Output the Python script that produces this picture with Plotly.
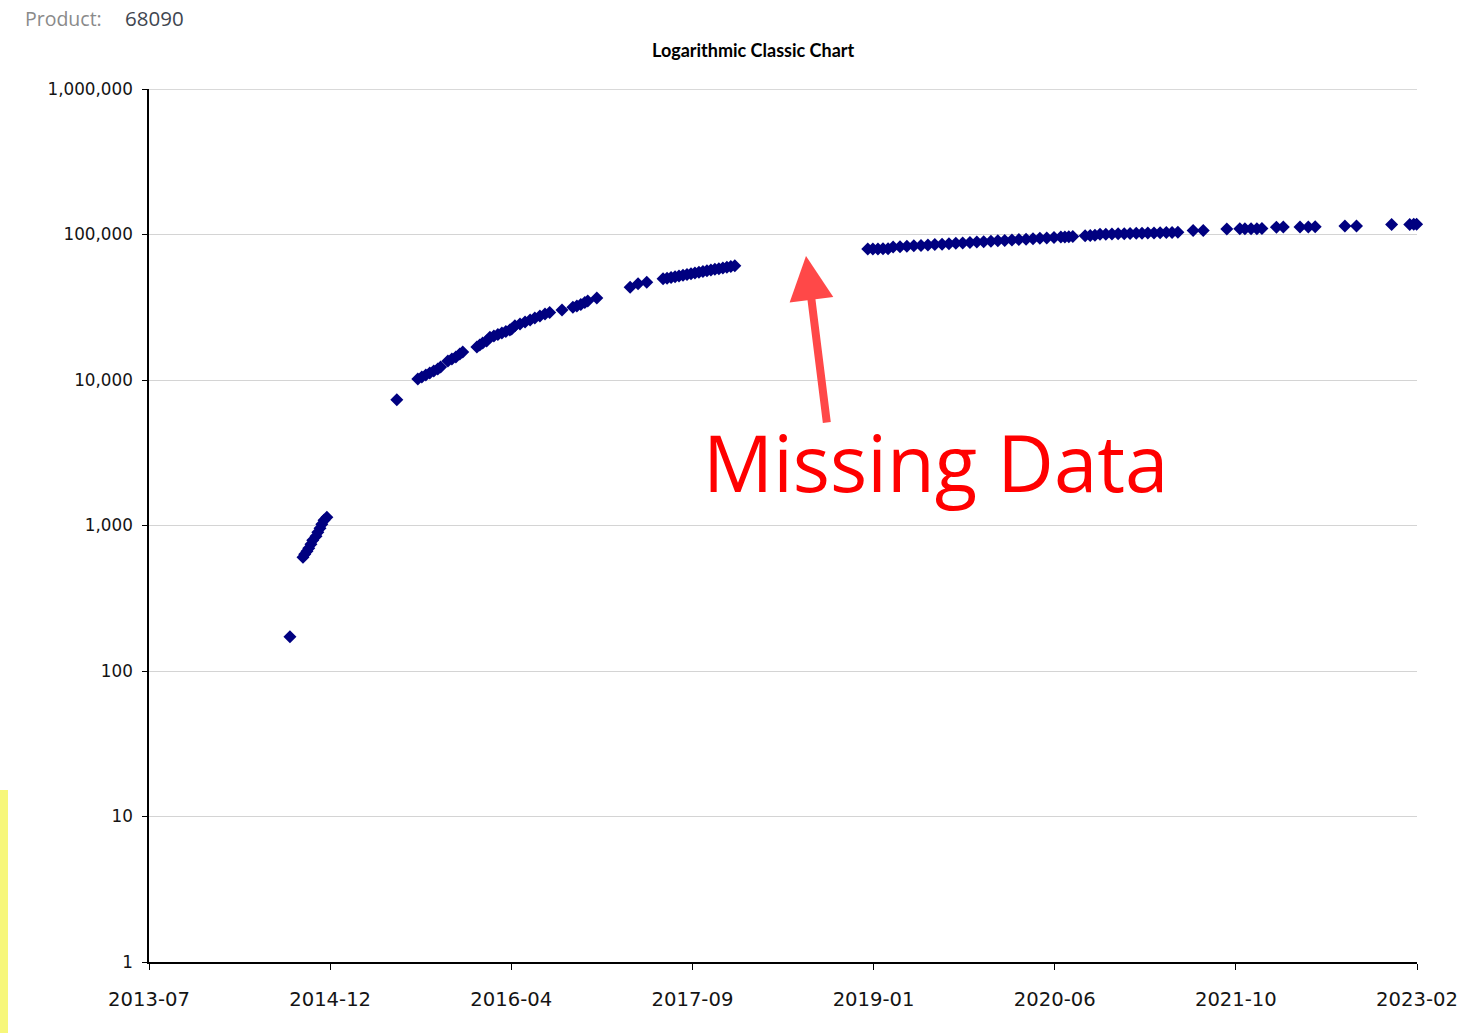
import plotly.graph_objects as go

# ---------------- data ----------------
dates = [
    '2014-08-22', '2014-09-27', '2014-10-02', '2014-10-08', '2014-10-13', '2014-10-19',
    '2014-10-24', '2014-11-02', '2014-11-07', '2014-11-13', '2014-11-18', '2014-11-24',
    '2014-12-02',
    '2015-06-13',
    '2015-08-10', '2015-08-21', '2015-09-01', '2015-09-12', '2015-09-23', '2015-10-04',
    '2015-10-12', '2015-11-01', '2015-11-12', '2015-11-23', '2015-12-04', '2015-12-12',
    '2016-01-20', '2016-01-28', '2016-02-05', '2016-02-16', '2016-02-25', '2016-03-07',
    '2016-03-18', '2016-03-29', '2016-04-09', '2016-04-20', '2016-04-25', '2016-05-04',
    '2016-05-18', '2016-06-01', '2016-06-15', '2016-06-28', '2016-07-12', '2016-07-26',
    '2016-08-08', '2016-09-11', '2016-10-11', '2016-10-22', '2016-11-02', '2016-11-13',
    '2016-11-21', '2016-12-16',
    '2017-03-18', '2017-04-09', '2017-05-03', '2017-06-17', '2017-06-28', '2017-07-09',
    '2017-07-20', '2017-07-31', '2017-08-11', '2017-08-22', '2017-09-02', '2017-09-13',
    '2017-09-24', '2017-10-05', '2017-10-16', '2017-10-27', '2017-11-07', '2017-11-18',
    '2017-11-29', '2017-12-10', '2017-12-21', '2018-01-01',
    '2019-01-03', '2019-01-17', '2019-01-31', '2019-02-14', '2019-02-28', '2019-03-14',
    '2019-04-02', '2019-04-21', '2019-05-10', '2019-05-30', '2019-06-18', '2019-07-07',
    '2019-07-27', '2019-08-15', '2019-09-03', '2019-09-22', '2019-10-12', '2019-10-31',
    '2019-11-19', '2019-12-09', '2019-12-28', '2020-01-16', '2020-02-05', '2020-02-24',
    '2020-03-15', '2020-04-03', '2020-04-22', '2020-05-11', '2020-05-31', '2020-06-19',
    '2020-06-30', '2020-07-11', '2020-07-22', '2020-08-25', '2020-09-08', '2020-09-21',
    '2020-10-05', '2020-10-21', '2020-11-07', '2020-11-24', '2020-12-11', '2020-12-27',
    '2021-01-13', '2021-01-29', '2021-02-14', '2021-03-03', '2021-03-20', '2021-04-06',
    '2021-04-22', '2021-05-08', '2021-06-19', '2021-07-17', '2021-09-20', '2021-10-26',
    '2021-11-09', '2021-11-26', '2021-12-12', '2021-12-26', '2022-02-04', '2022-02-23',
    '2022-04-10', '2022-05-03', '2022-05-22', '2022-08-12', '2022-09-13', '2022-12-19',
    '2023-02-07', '2023-02-18', '2023-02-26',
]

counts = [
    172, 604, 634, 665, 697, 743,
    791, 843, 898, 957, 1019, 1086,
    1140,
    7310,
    10160, 10480, 10820, 11160, 11520, 11890,
    12270, 13510, 13940, 14390, 15090, 15570,
    16870, 17410, 17980, 18550, 19670, 20080,
    20560, 21050, 21560, 22080, 22430, 23640,
    24270, 25060, 25870, 26710, 27570, 28470,
    29130, 30320, 31640, 32290, 33080, 34150,
    34970, 36650,
    43450, 45780, 47010, 49550, 50100, 50700,
    51290, 51890, 52490, 53120, 53740, 54360,
    54990, 55630, 56280, 56930, 57590, 58260,
    58940, 59620, 60310, 61010,
    79400, 79500, 79600, 79700, 79800, 81900,
    82450, 83000, 83560, 84110, 84670, 85220,
    85790, 86360, 86930, 87510, 88100, 88690,
    89280, 89860, 90460, 91070, 91680, 92290,
    92910, 93530, 94130, 94760, 95390, 95940,
    96200, 96500, 96800, 98200, 98450, 98700,
    100300, 100550, 100800, 101050, 101300, 101560,
    101820, 102080, 102340, 102600, 102860, 103120,
    103380, 103640, 106500, 106600, 109200, 109400,
    109500, 109600, 109700, 109800, 112300, 112500,
    112600, 112700, 112900, 114200, 114400, 117200,
    117300, 117400, 117500,
]

tick_dates = ['2013-07-29', '2014-12-11', '2016-04-24', '2017-09-06',
              '2019-01-19', '2020-06-02', '2021-10-15', '2023-02-27']
tick_labels = ['2013-07', '2014-12', '2016-04', '2017-09',
               '2019-01', '2020-06', '2021-10', '2023-02']

y_ticks = [1, 10, 100, 1000, 10000, 100000, 1000000]
y_labels = ['1', '10', '100', '1,000', '10,000', '100,000', '1,000,000']

product_id = '68090'
chart_title = 'Logarithmic Classic Chart'
note_text = 'Missing Data'

# ---------------- layout geometry ----------------
W, H = 1459, 1033
L, R, T, B = 149, 1417, 89, 962


def px(x):
    return (x - L) / (R - L)


def py(y):
    return (B - y) / (B - T)


fig = go.Figure()
fig.add_trace(go.Scatter(
    x=dates, y=counts, mode='markers',
    marker=dict(symbol='diamond', size=10, color='#000080', line=dict(width=0)),
    cliponaxis=False, showlegend=False,
))

fig.update_layout(
    template='none',
    width=W, height=H, autosize=False,
    margin=dict(l=L, r=W - R, t=T, b=H - B, pad=0),
    paper_bgcolor='white', plot_bgcolor='white',
    showlegend=False,
    xaxis=dict(
        type='date', range=[tick_dates[0], tick_dates[-1]],
        tickmode='array', tickvals=tick_dates, ticktext=tick_labels,
        showgrid=False, zeroline=False,
        showline=True, linecolor='black', linewidth=1.5,
        ticks='outside', ticklen=6, tickcolor='black', tickwidth=1,
        ticklabelstandoff=13,
        tickfont=dict(family='DejaVu Sans', size=19.6, color='#141414'),
        automargin=False,
    ),
    yaxis=dict(
        type='log', range=[0, 6],
        tickmode='array', tickvals=y_ticks, ticktext=y_labels,
        showgrid=True, gridcolor='#d4d4d4', gridwidth=1,
        zeroline=False,
        showline=True, linecolor='black', linewidth=1.5,
        ticks='outside', ticklen=5, tickcolor='black', tickwidth=1,
        ticklabelstandoff=6,
        tickfont=dict(family='DejaVu Sans', size=16.8, color='#141414'),
        automargin=False,
    ),
    shapes=[
        dict(type='rect', xref='paper', yref='paper',
             x0=px(0), x1=px(8), y0=py(1033), y1=py(790),
             fillcolor='#f7f77a', line=dict(width=0), layer='below'),
        # top gridline at 1,000,000 (edge gridline)
        dict(type='line', xref='paper', yref='y', x0=0, x1=1,
             y0=y_ticks[-1], y1=y_ticks[-1],
             line=dict(color='#cccccc', width=1.5), layer='below'),
    ],
    annotations=[
        dict(text='Product:', xref='paper', yref='paper', x=px(23), y=py(18),
             xanchor='left', yanchor='middle', showarrow=False,
             font=dict(family='Open Sans', size=19.5, color='#8a8a8a')),
        dict(text=product_id, xref='paper', yref='paper', x=px(123), y=py(18),
             xanchor='left', yanchor='middle', showarrow=False,
             font=dict(family='Open Sans', size=20.5, color='#3f4650')),
        dict(text='<b>' + chart_title + '</b>', xref='paper', yref='paper',
             x=px(753), y=py(50), xanchor='center', yanchor='middle', showarrow=False,
             font=dict(family='Lato', size=18, color='black')),
        dict(text=note_text, xref='paper', yref='paper', x=px(935), y=py(462),
             xanchor='center', yanchor='middle', showarrow=False,
             font=dict(family='Open Sans', size=78, color='#ff0000')),
        dict(text='', xref='paper', yref='paper', x=px(806), y=py(256),
             ax=21, ay=168, showarrow=True, arrowhead=2, arrowsize=1.1,
             arrowwidth=8, arrowcolor='#ff4848', standoff=0, startstandoff=0),
    ],
)

fig.write_html('out.html', config={'displayModeBar': False},
               post_script="document.body.style.margin='0';")
